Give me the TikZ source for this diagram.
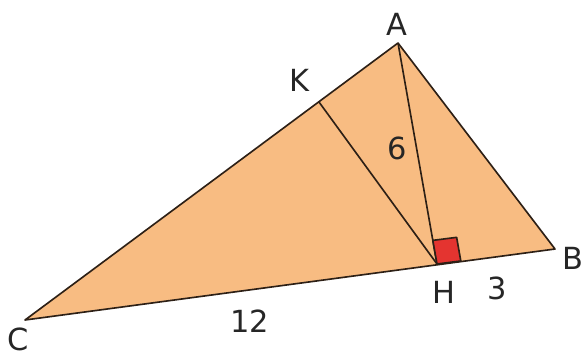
\documentclass[tikz,border=0pt]{standalone}
\usepackage{fontspec}
\setmainfont{DejaVu Sans}
\definecolor{TriFill}{RGB}{248,188,130}
\definecolor{RightRed}{RGB}{228,52,48}
\definecolor{EdgeDark}{RGB}{45,32,22}
\usetikzlibrary{calc}
\tikzset{
  vlabel/.style={font=\fontsize{26}{30}\selectfont, text=black!85, inner sep=0pt},
  edge/.style={draw=EdgeDark, line width=1.4pt, line join=round}
}

\begin{document}
\begin{tikzpicture}[x=0.03cm, y=-0.03cm]
\useasboundingbox (0,0) rectangle (585,356);
% vertices
\coordinate (A) at (398,43);
\coordinate (B) at (555,249);
\coordinate (C) at (25,320);
\coordinate (H) at (437,264);
\coordinate (K) at (319,102);
% right angle mark at H
\coordinate (hb) at ($(H)!0.72cm!(B)$);
\coordinate (ha) at ($(H)!0.72cm!(A)$);
\coordinate (hc) at ($(hb)+(ha)-(H)$);

\fill[TriFill] (A) -- (B) -- (C) -- cycle;
\draw[edge] (A) -- (B) -- (C) -- cycle;
\draw[edge] (A) -- (H);
\draw[edge] (K) -- (H);
\draw[edge, fill=RightRed] (H) -- (hb) -- (hc) -- (ha) -- cycle;

% labels
\node[vlabel] (labA) at (397,24) {A};
\node[vlabel] (labB) at (573,258) {B};
\node[vlabel] (labC) at (18,339) {C};
\node[vlabel] (labH) at (444,292) {H};
\node[vlabel] (labK) at (299,80) {K};
\node[vlabel] (lab6) at (397,148) {6};
\node[vlabel] (lab3) at (497,288) {3};
\node[vlabel] (lab12) at (250,321) {12};
\end{tikzpicture}
\end{document}
